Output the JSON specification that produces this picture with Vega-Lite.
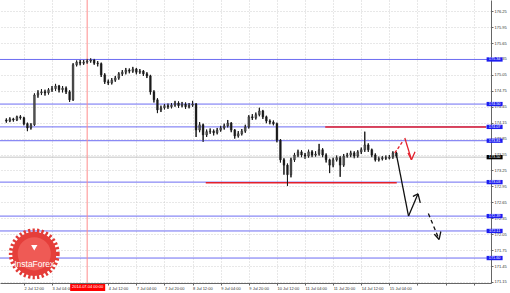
{
  "$schema": "https://vega.github.io/schema/vega-lite/v6.json",
  "width": 491,
  "height": 283,
  "padding": {"left": 0, "top": 0, "right": 19, "bottom": 10},
  "autosize": {"type": "none"},
  "background": "white",
  "config": {
    "view": {"stroke": null},
    "font": "Liberation Sans",
    "axis": {"title": null, "grid": true, "gridColor": "#c4c4c4", "gridDash": [1, 2], "gridWidth": 0.8,
      "labelFontSize": 4, "labelColor": "#333", "labelPadding": 1, "labelOverlap": false, "labelFlush": false, "labelBound": false,
      "tickSize": 2, "tickColor": "#666", "domainColor": "#666", "domainWidth": 1}
  },
  "datasets": {
    "candles": [
      {"t":6,"o":174.20,"h":174.23,"l":174.15,"c":174.18},
      {"t":8,"o":174.18,"h":174.25,"l":174.16,"c":174.22},
      {"t":10,"o":174.22,"h":174.24,"l":174.17,"c":174.20},
      {"t":12,"o":174.20,"h":174.28,"l":174.18,"c":174.26},
      {"t":14,"o":174.26,"h":174.29,"l":174.21,"c":174.24},
      {"t":16,"o":174.24,"h":174.26,"l":174.10,"c":174.13},
      {"t":18,"o":174.13,"h":174.15,"l":173.99,"c":174.05},
      {"t":20,"o":174.05,"h":174.14,"l":174.02,"c":174.11},
      {"t":22,"o":174.11,"h":174.70,"l":174.09,"c":174.67},
      {"t":24,"o":174.67,"h":174.76,"l":174.62,"c":174.71},
      {"t":26,"o":174.71,"h":174.78,"l":174.67,"c":174.73},
      {"t":28,"o":174.73,"h":174.77,"l":174.66,"c":174.71},
      {"t":30,"o":174.71,"h":174.80,"l":174.68,"c":174.77},
      {"t":32,"o":174.77,"h":174.84,"l":174.73,"c":174.79},
      {"t":34,"o":174.79,"h":174.88,"l":174.75,"c":174.84},
      {"t":36,"o":174.84,"h":174.86,"l":174.72,"c":174.77},
      {"t":38,"o":174.77,"h":174.84,"l":174.72,"c":174.80},
      {"t":40,"o":174.80,"h":174.83,"l":174.69,"c":174.73},
      {"t":42,"o":174.73,"h":174.76,"l":174.54,"c":174.58},
      {"t":44,"o":174.58,"h":175.27,"l":174.56,"c":175.24},
      {"t":46,"o":175.24,"h":175.32,"l":175.21,"c":175.29},
      {"t":48,"o":175.29,"h":175.33,"l":175.23,"c":175.27},
      {"t":50,"o":175.27,"h":175.33,"l":175.24,"c":175.29},
      {"t":52,"o":175.29,"h":175.35,"l":175.26,"c":175.31},
      {"t":54,"o":175.31,"h":175.36,"l":175.28,"c":175.33},
      {"t":56,"o":175.33,"h":175.35,"l":175.24,"c":175.27},
      {"t":58,"o":175.27,"h":175.31,"l":175.21,"c":175.26},
      {"t":60,"o":175.26,"h":175.28,"l":175.01,"c":175.05},
      {"t":62,"o":175.05,"h":175.08,"l":174.88,"c":174.92},
      {"t":64,"o":174.92,"h":174.96,"l":174.86,"c":174.90},
      {"t":66,"o":174.90,"h":174.99,"l":174.87,"c":174.95},
      {"t":68,"o":174.95,"h":175.03,"l":174.92,"c":174.99},
      {"t":70,"o":174.99,"h":175.10,"l":174.96,"c":175.07},
      {"t":72,"o":175.07,"h":175.14,"l":175.03,"c":175.10},
      {"t":74,"o":175.10,"h":175.18,"l":175.06,"c":175.14},
      {"t":76,"o":175.14,"h":175.17,"l":175.08,"c":175.12},
      {"t":78,"o":175.12,"h":175.20,"l":175.09,"c":175.16},
      {"t":80,"o":175.16,"h":175.18,"l":175.06,"c":175.10},
      {"t":82,"o":175.10,"h":175.16,"l":175.07,"c":175.12},
      {"t":84,"o":175.12,"h":175.14,"l":175.03,"c":175.07},
      {"t":86,"o":175.07,"h":175.10,"l":174.99,"c":175.03},
      {"t":88,"o":175.03,"h":175.05,"l":174.68,"c":174.73},
      {"t":90,"o":174.73,"h":174.76,"l":174.53,"c":174.58},
      {"t":92,"o":174.58,"h":174.61,"l":174.33,"c":174.39},
      {"t":94,"o":174.39,"h":174.47,"l":174.35,"c":174.43},
      {"t":96,"o":174.43,"h":174.50,"l":174.40,"c":174.47},
      {"t":98,"o":174.47,"h":174.51,"l":174.41,"c":174.45},
      {"t":100,"o":174.45,"h":174.52,"l":174.42,"c":174.48},
      {"t":102,"o":174.48,"h":174.56,"l":174.45,"c":174.52},
      {"t":104,"o":174.52,"h":174.55,"l":174.43,"c":174.47},
      {"t":106,"o":174.47,"h":174.54,"l":174.44,"c":174.50},
      {"t":108,"o":174.50,"h":174.53,"l":174.41,"c":174.45},
      {"t":110,"o":174.45,"h":174.52,"l":174.42,"c":174.48},
      {"t":112,"o":174.48,"h":174.56,"l":174.45,"c":174.50},
      {"t":114,"o":174.50,"h":174.52,"l":173.88,"c":174.01},
      {"t":116,"o":174.01,"h":174.16,"l":173.97,"c":174.11},
      {"t":118,"o":174.11,"h":174.13,"l":173.79,"c":173.92},
      {"t":120,"o":173.92,"h":174.02,"l":173.88,"c":173.98},
      {"t":122,"o":173.98,"h":174.04,"l":173.94,"c":173.99},
      {"t":124,"o":173.99,"h":174.02,"l":173.91,"c":173.96},
      {"t":126,"o":173.96,"h":174.05,"l":173.93,"c":174.01},
      {"t":128,"o":174.01,"h":174.09,"l":173.98,"c":174.05},
      {"t":130,"o":174.05,"h":174.13,"l":174.02,"c":174.09},
      {"t":132,"o":174.09,"h":174.20,"l":174.06,"c":174.14},
      {"t":134,"o":174.14,"h":174.16,"l":173.97,"c":174.01},
      {"t":136,"o":174.01,"h":174.03,"l":173.85,"c":173.90},
      {"t":138,"o":173.90,"h":173.99,"l":173.87,"c":173.94},
      {"t":140,"o":173.94,"h":174.03,"l":173.91,"c":173.99},
      {"t":142,"o":173.99,"h":174.11,"l":173.96,"c":174.07},
      {"t":144,"o":174.07,"h":174.29,"l":174.04,"c":174.26},
      {"t":146,"o":174.26,"h":174.31,"l":174.20,"c":174.24},
      {"t":148,"o":174.24,"h":174.34,"l":174.21,"c":174.30},
      {"t":150,"o":174.30,"h":174.43,"l":174.27,"c":174.37},
      {"t":152,"o":174.37,"h":174.39,"l":174.22,"c":174.26},
      {"t":154,"o":174.26,"h":174.28,"l":174.14,"c":174.18},
      {"t":156,"o":174.18,"h":174.21,"l":174.12,"c":174.16},
      {"t":158,"o":174.16,"h":174.19,"l":174.10,"c":174.13},
      {"t":160,"o":174.13,"h":174.15,"l":173.78,"c":173.82},
      {"t":162,"o":173.82,"h":173.84,"l":173.40,"c":173.45},
      {"t":164,"o":173.45,"h":173.48,"l":173.17,"c":173.35},
      {"t":166,"o":173.35,"h":173.38,"l":172.96,"c":173.17},
      {"t":168,"o":173.17,"h":173.49,"l":173.12,"c":173.45},
      {"t":170,"o":173.45,"h":173.58,"l":173.41,"c":173.54},
      {"t":172,"o":173.54,"h":173.64,"l":173.50,"c":173.60},
      {"t":174,"o":173.60,"h":173.63,"l":173.50,"c":173.54},
      {"t":176,"o":173.54,"h":173.58,"l":173.47,"c":173.52},
      {"t":178,"o":173.52,"h":173.64,"l":173.49,"c":173.60},
      {"t":180,"o":173.60,"h":173.63,"l":173.50,"c":173.54},
      {"t":182,"o":173.54,"h":173.61,"l":173.51,"c":173.56},
      {"t":184,"o":173.56,"h":173.75,"l":173.53,"c":173.64},
      {"t":186,"o":173.64,"h":173.67,"l":173.50,"c":173.54},
      {"t":188,"o":173.54,"h":173.57,"l":173.40,"c":173.45},
      {"t":190,"o":173.45,"h":173.47,"l":173.20,"c":173.35},
      {"t":192,"o":173.35,"h":173.49,"l":173.31,"c":173.45},
      {"t":194,"o":173.45,"h":173.53,"l":173.42,"c":173.49},
      {"t":196,"o":173.49,"h":173.52,"l":173.13,"c":173.35},
      {"t":198,"o":173.35,"h":173.56,"l":173.32,"c":173.52},
      {"t":200,"o":173.52,"h":173.58,"l":173.49,"c":173.54},
      {"t":202,"o":173.54,"h":173.62,"l":173.50,"c":173.58},
      {"t":204,"o":173.58,"h":173.61,"l":173.48,"c":173.52},
      {"t":206,"o":173.52,"h":173.63,"l":173.49,"c":173.60},
      {"t":208,"o":173.60,"h":173.68,"l":173.56,"c":173.64},
      {"t":210,"o":173.64,"h":173.98,"l":173.60,"c":173.73},
      {"t":212,"o":173.73,"h":173.76,"l":173.60,"c":173.64},
      {"t":214,"o":173.64,"h":173.66,"l":173.50,"c":173.54},
      {"t":216,"o":173.54,"h":173.57,"l":173.42,"c":173.45},
      {"t":218,"o":173.45,"h":173.51,"l":173.42,"c":173.47},
      {"t":220,"o":173.47,"h":173.52,"l":173.44,"c":173.49},
      {"t":222,"o":173.49,"h":173.53,"l":173.45,"c":173.48},
      {"t":224,"o":173.48,"h":173.54,"l":173.46,"c":173.50},
      {"t":226,"o":173.50,"h":173.61,"l":173.47,"c":173.58},
      {"t":228,"o":173.58,"h":173.60,"l":173.49,"c":173.52}
    ],
    "levels": [
      {"v":175.34},{"v":174.50},{"v":174.07},{"v":173.81},
      {"v":173.03},{"v":172.39},{"v":172.11},{"v":171.60}
    ],
    "redlevels": [
      {"t1":187.5,"t2":279,"v":174.07},
      {"t1":119.5,"t2":228.2,"v":173.02}
    ],
    "arrows": [
      {"t1":227.1,"v1":173.58,"t2":231.5,"v2":173.79,"k":"rd"},
      {"t1":232.8,"v1":173.86,"t2":236.6,"v2":173.45,"k":"r"},
      {"t1":236.6,"v1":173.45,"t2":234.6,"v2":173.58,"k":"r"},
      {"t1":236.6,"v1":173.45,"t2":238.6,"v2":173.60,"k":"r"},
      {"t1":228.2,"v1":173.52,"t2":234.9,"v2":172.39,"k":"b"},
      {"t1":234.9,"v1":172.39,"t2":240.3,"v2":172.81,"k":"b"},
      {"t1":240.3,"v1":172.81,"t2":237.4,"v2":172.76,"k":"b"},
      {"t1":240.3,"v1":172.81,"t2":241.6,"v2":172.64,"k":"b"},
      {"t1":246.2,"v1":172.44,"t2":252.3,"v2":171.95,"k":"bd"},
      {"t1":252.3,"v1":171.95,"t2":249.6,"v2":172.05,"k":"b"},
      {"t1":252.3,"v1":171.95,"t2":253.3,"v2":172.10,"k":"b"}
    ],
    "tags": [
      {"v":175.34,"k":"blue"},{"v":174.50,"k":"blue"},{"v":174.07,"k":"blue"},
      {"v":173.81,"k":"blue"},{"v":173.50,"k":"black"},{"v":173.03,"k":"blue"},
      {"v":172.39,"k":"blue"},{"v":172.11,"k":"blue"},{"v":171.60,"k":"blue"}
    ]
  },
  "layer": [
    {
      "data": {"name": "candles"},
      "mark": {"type": "rule", "color": "#1a1a1a", "strokeWidth": 1},
      "encoding": {
        "x": {"field": "t", "type": "quantitative", "scale": {"domain": [5.24, 279], "nice": false, "zero": false},
          "axis": {"title": null, "tickCount": 100, "values": [16,32,48,64,80,96,112,128,144,160,176,192,208,224,240,256,272],
            "labelExpr": "datum.value > 224 || datum.value == 48 ? '' : ['1 Jul 20:00','2 Jul 12:00','3 Jul 04:00','3 Jul 20:00','4 Jul 12:00','7 Jul 04:00','7 Jul 20:00','8 Jul 12:00','9 Jul 04:00','9 Jul 20:00','10 Jul 12:00','11 Jul 04:00','11 Jul 20:00','14 Jul 12:00','15 Jul 04:00'][round(datum.value/16)]",
            "labelAlign": "left", "labelOverlap": false}},
        "y": {"field": "l", "type": "quantitative", "scale": {"domain": [171.13, 176.46], "nice": false, "zero": false},
          "axis": {"title": null, "orient": "right", "tickCount": 100, "values": [171.15,171.45,171.75,172.05,172.35,172.65,172.95,173.25,173.55,173.85,174.15,174.45,174.75,175.05,175.35,175.65,175.95,176.25],
            "format": ".2f", "labelOverlap": false}},
        "y2": {"field": "h"}
      }
    },
    {
      "data": {"values": [{"v": 173.50}]},
      "mark": {"type": "rule", "color": "#c4c4c4", "strokeWidth": 1},
      "encoding": {
        "y": {"field": "v", "type": "quantitative", "scale": {"domain": [171.13, 176.46], "nice": false, "zero": false}}
      }
    },
    {
      "data": {"name": "levels"},
      "mark": {"type": "rule", "color": "#6c6cf2", "strokeWidth": 1},
      "encoding": {
        "y": {"field": "v", "type": "quantitative", "scale": {"domain": [171.13, 176.46], "nice": false, "zero": false}}
      }
    },
    {
      "data": {"values": [{"t": 52}]},
      "mark": {"type": "rule", "color": "#ff8c8c", "strokeWidth": 1},
      "encoding": {
        "x": {"field": "t", "type": "quantitative", "scale": {"domain": [5.24, 279], "nice": false, "zero": false}}
      }
    },
    {
      "data": {"name": "redlevels"},
      "mark": {"type": "rule", "color": "#e3202c", "strokeWidth": 1.5},
      "encoding": {
        "x": {"field": "t1", "type": "quantitative", "scale": {"domain": [5.24, 279], "nice": false, "zero": false}},
        "x2": {"field": "t2"},
        "y": {"field": "v", "type": "quantitative", "scale": {"domain": [171.13, 176.46], "nice": false, "zero": false}}
      }
    },
    {
      "data": {"name": "candles"},
      "mark": {"type": "rule", "color": "#1a1a1a", "strokeWidth": 1},
      "encoding": {
        "x": {"field": "t", "type": "quantitative", "scale": {"domain": [5.24, 279], "nice": false, "zero": false}},
        "y": {"field": "l", "type": "quantitative", "scale": {"domain": [171.13, 176.46], "nice": false, "zero": false}},
        "y2": {"field": "h"}
      }
    },
    {
      "data": {"name": "candles"},
      "mark": {"type": "bar", "width": 1.8, "stroke": "#1a1a1a", "strokeWidth": 0.4},
      "encoding": {
        "x": {"field": "t", "type": "quantitative", "scale": {"domain": [5.24, 279], "nice": false, "zero": false}},
        "y": {"field": "o", "type": "quantitative", "scale": {"domain": [171.13, 176.46], "nice": false, "zero": false}},
        "y2": {"field": "c"},
        "fill": {"condition": {"test": "datum.c >= datum.o", "value": "#555555"}, "value": "#1a1a1a"}
      }
    },
    {
      "data": {"name": "arrows"},
      "mark": {"type": "rule"},
      "encoding": {
        "x": {"field": "t1", "type": "quantitative", "scale": {"domain": [5.24, 279], "nice": false, "zero": false}},
        "x2": {"field": "t2"},
        "y": {"field": "v1", "type": "quantitative", "scale": {"domain": [171.13, 176.46], "nice": false, "zero": false}},
        "y2": {"field": "v2"},
        "color": {"field": "k", "type": "nominal", "scale": {"domain": ["rd", "r", "b", "bd"], "range": ["#e3202c", "#e3202c", "#111111", "#111111"]}, "legend": null},
        "strokeDash": {"field": "k", "type": "nominal", "scale": {"domain": ["rd", "r", "b", "bd"], "range": [[3, 2], [1, 0], [1, 0], [4, 3]]}, "legend": null},
        "strokeWidth": {"field": "k", "type": "nominal", "scale": {"domain": ["rd", "r", "b", "bd"], "range": [1.3, 1.3, 1.8, 1.8]}, "legend": null}
      }
    },
    {
      "data": {"name": "tags"},
      "mark": {"type": "point", "shape": "M-1,-0.27L1,-0.27L1,0.27L-1,0.27Z", "filled": true, "size": 256, "opacity": 1},
      "encoding": {
        "x": {"datum": 283.9, "type": "quantitative", "scale": {"domain": [5.24, 279], "nice": false, "zero": false}},
        "y": {"field": "v", "type": "quantitative", "scale": {"domain": [171.13, 176.46], "nice": false, "zero": false}},
        "fill": {"field": "k", "type": "nominal", "scale": {"domain": ["blue", "black"], "range": ["#1d1df0", "#000000"]}, "legend": null}
      }
    },
    {
      "data": {"name": "tags"},
      "mark": {"type": "text", "color": "white", "fontSize": 3.8, "align": "center", "baseline": "middle"},
      "encoding": {
        "x": {"datum": 283.9, "type": "quantitative", "scale": {"domain": [5.24, 279], "nice": false, "zero": false}},
        "y": {"field": "v", "type": "quantitative", "scale": {"domain": [171.13, 176.46], "nice": false, "zero": false}},
        "text": {"field": "v", "type": "quantitative", "format": ".2f"}
      }
    },
    {
      "data": {"values": [{"t": 52.3, "v": 171.047, "label": "2014.07.04 00:00"}]},
      "layer": [
        {
          "mark": {"type": "point", "shape": "M-1,-0.2L1,-0.2L1,0.2L-1,0.2Z", "filled": true, "size": 1225, "fill": "#ff0000", "opacity": 1}
        },
        {
          "mark": {"type": "text", "color": "white", "fontSize": 4, "align": "center", "baseline": "middle"},
          "encoding": {"text": {"field": "label"}}
        }
      ],
      "encoding": {
        "x": {"field": "t", "type": "quantitative", "scale": {"domain": [5.24, 279], "nice": false, "zero": false}},
        "y": {"field": "v", "type": "quantitative", "scale": {"domain": [171.13, 176.46], "nice": false, "zero": false}}
      }
    },
    {
      "data": {"values": [{"t": 21.9, "v": 171.68, "name": "InstaForex"}]},
      "layer": [
        {"mark": {"type": "point", "shape": "circle", "filled": false, "size": 2100, "stroke": "#e23a36", "strokeWidth": 5, "strokeDash": [2.2, 2.2], "opacity": 1}},
        {"mark": {"type": "point", "shape": "circle", "filled": true, "size": 1950, "fill": "#e53e3a", "opacity": 1}},
        {"mark": {"type": "point", "shape": "circle", "filled": true, "size": 1100, "fill": "#ef5a55", "opacity": 1}},
        {"mark": {"type": "text", "text": "InstaForex", "color": "white", "fontSize": 8.5, "font": "Liberation Sans", "align": "center", "baseline": "middle", "dy": 10}},
        {"mark": {"type": "point", "shape": "triangle-down", "filled": true, "size": 40, "fill": "white", "opacity": 1, "yOffset": -6}}
      ],
      "encoding": {
        "x": {"field": "t", "type": "quantitative", "scale": {"domain": [5.24, 279], "nice": false, "zero": false}},
        "y": {"field": "v", "type": "quantitative", "scale": {"domain": [171.13, 176.46], "nice": false, "zero": false}}
      }
    }
  ]
}
